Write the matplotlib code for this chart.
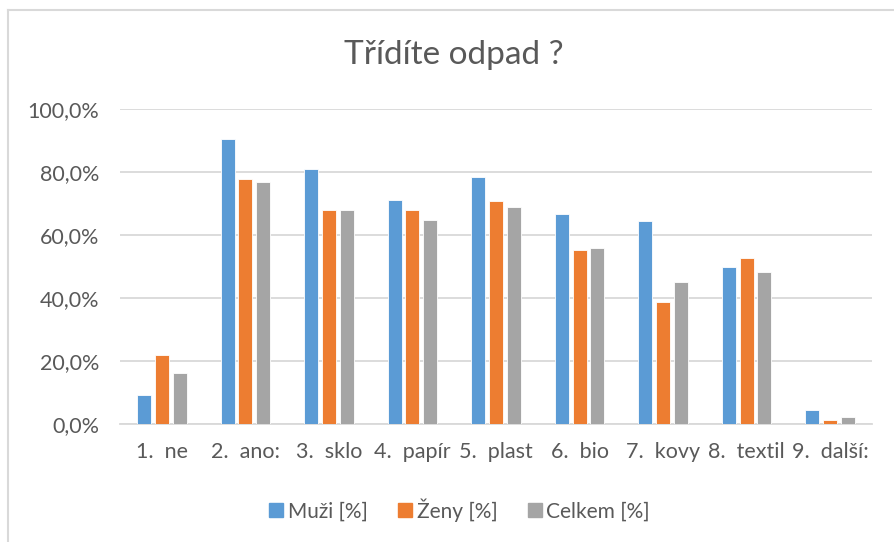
import numpy as np
import matplotlib
matplotlib.use("Agg")
import matplotlib.pyplot as plt
from matplotlib.lines import Line2D
from matplotlib.ticker import FuncFormatter

plt.rcParams['font.family'] = ['Lato', 'DejaVu Sans']

categories = ['1.  ne', '2.  ano:', '3.  sklo', '4.  papír', '5.  plast',
              '6.  bio', '7.  kovy', '8.  textil', '9.  další:']
muzi = [9.2, 90.4, 80.8, 71.1, 78.4, 66.6, 64.4, 49.9, 4.3]
zeny = [21.9, 77.7, 67.9, 67.9, 70.8, 55.2, 38.6, 52.8, 1.2]
celkem = [16.2, 76.8, 67.9, 64.8, 68.8, 55.8, 45.0, 48.3, 2.3]
series_names = ['Muži [%]', 'Ženy [%]', 'Celkem [%]']
colors = ['#5B9BD5', '#ED7D31', '#A5A5A5']
text_col = '#595959'

fig = plt.figure(figsize=(8.94, 5.42), dpi=100)
ax = fig.add_axes([120 / 894, 1 - 424 / 542, 752 / 894, 315 / 542])

x = np.arange(len(categories))
w = 0.168
step = 0.213
for i, (vals, col, name) in enumerate(zip([muzi, zeny, celkem], colors, series_names)):
    ax.bar(x + (i - 1) * step, vals, width=w, color=col, label=name,
           edgecolor='white', linewidth=0.6, zorder=3)

ax.set_xlim(-0.5, len(categories) - 0.5)
ax.set_ylim(0, 100)
ax.set_yticks(np.arange(0, 101, 20))
ax.yaxis.set_major_formatter(FuncFormatter(lambda v, p: f'{v:.1f}%'.replace('.', ',')))
ax.set_xticks(x)
ax.set_xticklabels(categories)
ax.grid(axis='y', color='#D9D9D9', linewidth=1.3, zorder=0)
ax.set_axisbelow(True)
for s in ['top', 'right', 'left']:
    ax.spines[s].set_visible(False)
ax.spines['bottom'].set_color('#D9D9D9')
ax.spines['bottom'].set_linewidth(1.3)
ax.tick_params(axis='both', length=0, labelsize=15.5, colors=text_col)
ax.tick_params(axis='x', pad=13)
ax.tick_params(axis='y', pad=15)

fig.text(454 / 894, 1 - 55 / 542, 'Třídíte odpad ?', ha='center', va='center',
         fontsize=24, color=text_col)

handles = [Line2D([], [], marker='s', linestyle='none', markersize=10,
                  markerfacecolor=c, markeredgecolor=c) for c in colors]
fig.legend(handles, series_names, loc='center', bbox_to_anchor=(458 / 894, 1 - 510 / 542),
           ncol=3, frameon=False, fontsize=15, labelcolor=text_col,
           handletextpad=0.05, columnspacing=1.3, handlelength=1.0)

# chart border
fig.add_artist(Line2D([8 / 894, 8 / 894], [0, 1 - 10 / 542], color='#D9D9D9', linewidth=1.5))
fig.add_artist(Line2D([8 / 894, 1], [1 - 10 / 542, 1 - 10 / 542], color='#D9D9D9', linewidth=1.5))

fig.savefig('out.png', dpi=100)
